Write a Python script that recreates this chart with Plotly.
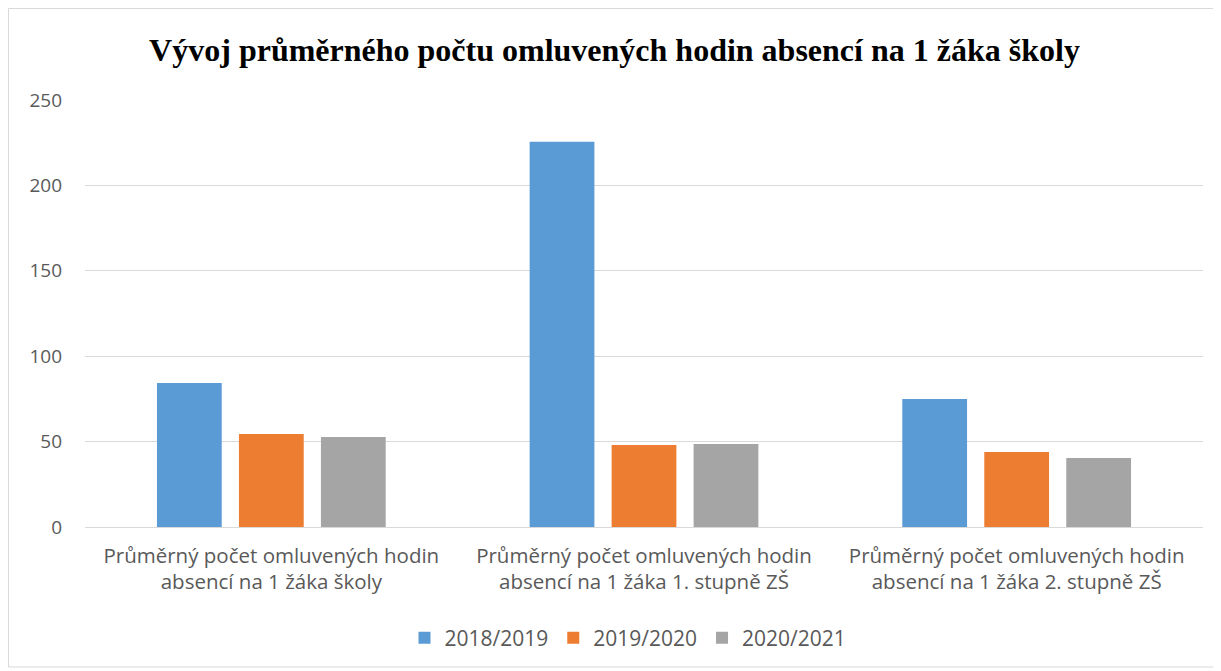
import plotly.graph_objects as go

categories = [
    "Průměrný počet omluvených hodin<br>absencí na 1 žáka školy",
    "Průměrný počet omluvených hodin<br>absencí na 1 žáka 1. stupně ZŠ",
    "Průměrný počet omluvených hodin<br>absencí na 1 žáka 2. stupně ZŠ",
]
series_names = ["2018/2019", "2019/2020", "2020/2021"]
values_2018 = [84.3, 225.5, 74.9]
values_2019 = [54.4, 48.0, 43.9]
values_2020 = [52.7, 48.6, 40.4]
colors = ["#5B9BD5", "#ED7D31", "#A5A5A5"]

fig = go.Figure()
for name, vals, col in zip(series_names, [values_2018, values_2019, values_2020], colors):
    fig.add_trace(go.Bar(x=categories, y=vals, name=name, marker_color=col,
                         marker_line_width=0))

W, H = 1213, 663
L, R, T, B = 77, 18, 92, 144
PW, PH = W - L - R, H - T - B

font_fam = "Open Sans, Liberation Sans, sans-serif"
fig.update_layout(
    width=W, height=H,
    paper_bgcolor="white", plot_bgcolor="white",
    margin=dict(l=L, r=R, t=T, b=B),
    barmode="group", bargap=0.34, bargroupgap=0.21,
    title=dict(text="<b>Vývoj průměrného počtu omluvených hodin absencí na 1 žáka školy</b>",
               font=dict(family="Liberation Serif, Times New Roman, serif", size=32, color="black"),
               x=0.5, xanchor="center", y=1 - 42 / H, yanchor="middle"),
    legend=dict(orientation="h", x=(620 - L) / PW, xanchor="center",
                y=-(630 - (T + PH)) / PH, yanchor="middle",
                font=dict(family=font_fam, size=21, color="#595959"),
                itemwidth=30, traceorder="normal"),
    font=dict(family=font_fam, color="#595959"),
    xaxis=dict(tickfont=dict(size=20.5, color="#595959"), showline=False,
               ticks="", showgrid=False, ticklabelstandoff=14),
    yaxis=dict(range=[0, 250], dtick=50, tickfont=dict(size=19, color="#595959"),
               gridcolor="#D9D9D9", gridwidth=1, zeroline=True, zerolinecolor="#D9D9D9",
               zerolinewidth=1, showline=False, ticks="", ticklabelstandoff=22),
    shapes=[dict(type="rect", xref="paper", yref="paper",
                 x0=(0.5 - L) / PW, x1=(W - 1.5 - L) / PW,
                 y0=(T + PH - (H - 4)) / PH, y1=(T + PH - 0.5) / PH,
                 line=dict(color="#D9D9D9", width=1), fillcolor="rgba(0,0,0,0)", layer="below")],
)

fig.write_html("out.html")
